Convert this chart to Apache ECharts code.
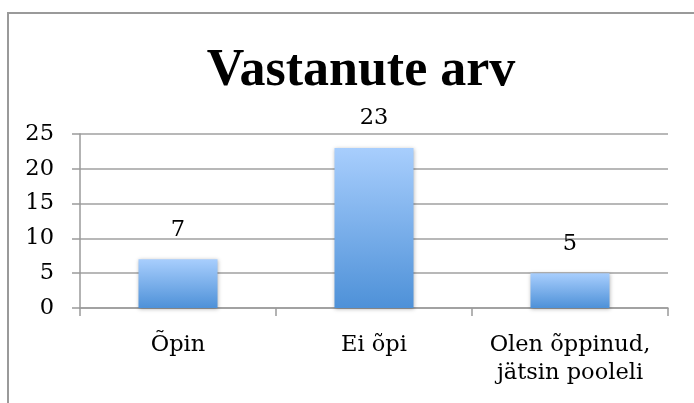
<!DOCTYPE html>
<html>
<head>
<meta charset="utf-8">
<script src="https://cdn.jsdelivr.net/npm/echarts@6/dist/echarts.min.js"></script>
<style>
  html, body { margin: 0; padding: 0; background: #fff; }
  #main { width: 694px; height: 403px; }
</style>
</head>
<body>
<div id="main"></div>
<script>
var categories = ['Õpin', 'Ei õpi', 'Olen õppinud,\njätsin pooleli'];
var answers = [7, 23, 5];
var yTicks = [0, 5, 10, 15, 20, 25];

var serif = '"DejaVu Serif", "Liberation Serif", serif';

var myChart = echarts.init(document.getElementById('main'));
var option = {
    animation: false,
    backgroundColor: '#fff',
    title: {
        text: 'Vastanute arv',
        left: 356,
        top: 41,
        textAlign: 'center',
        textStyle: {
            fontFamily: '"Liberation Serif", serif',
            fontWeight: 'bold',
            fontSize: 52,
            color: '#000'
        }
    },
    graphic: [
        {
            type: 'rect',
            shape: { x: 8, y: 13, width: 720, height: 420 },
            style: { fill: 'none', stroke: '#9a9a9a', lineWidth: 2 },
            silent: true
        }
    ],
    grid: {
        left: 80,
        right: 26,
        top: 134,
        bottom: 95
    },
    xAxis: {
        type: 'category',
        data: categories,
        axisLine: { lineStyle: { color: '#9a9a9a', width: 1.5 } },
        axisTick: { show: true, length: 8, lineStyle: { color: '#9a9a9a', width: 1.5 } },
        axisLabel: {
            margin: 23,
            fontFamily: serif,
            fontSize: 22.5,
            lineHeight: 28,
            color: '#000',
            interval: 0
        }
    },
    yAxis: {
        type: 'value',
        min: yTicks[0],
        max: yTicks[yTicks.length - 1],
        interval: 5,
        axisLine: { show: true, lineStyle: { color: '#9a9a9a', width: 1.5 } },
        axisTick: { show: true, length: 8, lineStyle: { color: '#9a9a9a', width: 1.5 } },
        splitLine: { lineStyle: { color: '#a0a0a0', width: 1.5 } },
        axisLabel: {
            margin: 26,
            fontFamily: serif,
            fontSize: 22.5,
            color: '#000'
        }
    },
    series: [
        {
            type: 'bar',
            data: answers,
            barWidth: 79,
            itemStyle: {
                color: new echarts.graphic.LinearGradient(0, 0, 0, 1, [
                    { offset: 0, color: '#a8cefd' },
                    { offset: 1, color: '#4e91d8' }
                ]),
                shadowColor: 'rgba(0,0,0,0.3)',
                shadowBlur: 4,
                shadowOffsetY: 1
            },
            label: {
                show: true,
                position: 'top',
                distance: 18,
                fontFamily: serif,
                fontSize: 22.5,
                color: '#000'
            }
        }
    ]
};
myChart.setOption(option);
</script>
</body>
</html>
